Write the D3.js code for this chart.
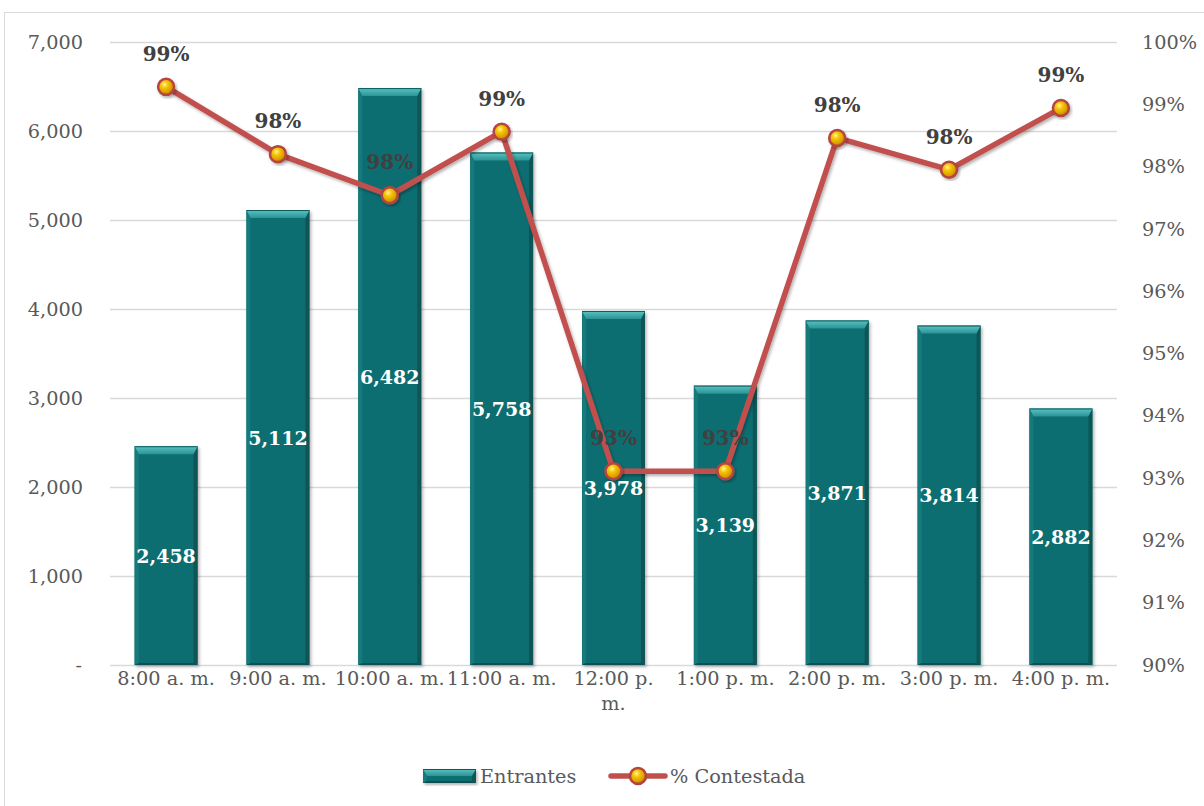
<!DOCTYPE html>
<html><head><meta charset="utf-8">
<script src="https://cdn.jsdelivr.net/npm/d3@7"></script>
<style>
html,body{margin:0;padding:0;background:#fff;}
svg{display:block;}
text{font-family:"DejaVu Serif","Liberation Serif",serif;}
</style></head>
<body><svg id="c" width="1204" height="806"></svg>
<script>
const categories = ["8:00 a. m.","9:00 a. m.","10:00 a. m.","11:00 a. m.","12:00 p. m.","1:00 p. m.","2:00 p. m.","3:00 p. m.","4:00 p. m."];
const categoryLines = [["8:00 a. m."],["9:00 a. m."],["10:00 a. m."],["11:00 a. m."],["12:00 p.","m."],["1:00 p. m."],["2:00 p. m."],["3:00 p. m."],["4:00 p. m."]];
const entrantes = [2458,5112,6482,5758,3978,3139,3871,3814,2882];
const contestada = [0.9928,0.9820,0.9754,0.9856,0.9311,0.9311,0.9846,0.9795,0.9894];
const leftTicks = [0,1000,2000,3000,4000,5000,6000,7000];
const rightTicks = [0.90,0.91,0.92,0.93,0.94,0.95,0.96,0.97,0.98,0.99,1.00];
const seriesNames = ["Entrantes","% Contestada"];

const svg = d3.select("#c");
const m = {left:110, right:1117, top:42, bottom:665};
const FONT = "'DejaVu Serif','Liberation Serif',serif";
const AX = 19.3;

const defs = svg.append("defs");
const rg = defs.append("radialGradient").attr("id","gold").attr("cx","40%").attr("cy","35%").attr("r","65%");
rg.append("stop").attr("offset","0%").attr("stop-color","#fff2a0");
rg.append("stop").attr("offset","35%").attr("stop-color","#f5c400");
rg.append("stop").attr("offset","80%").attr("stop-color","#d89a00");
rg.append("stop").attr("offset","100%").attr("stop-color","#a86c00");
const sh = defs.append("filter").attr("id","shadow").attr("x","-20%").attr("y","-20%").attr("width","140%").attr("height","140%");
sh.append("feDropShadow").attr("dx",1.5).attr("dy",2).attr("stdDeviation",1.5).attr("flood-color","#000").attr("flood-opacity",0.3);
const topG = defs.append("linearGradient").attr("id","topbev").attr("x1","0").attr("y1","0").attr("x2","0").attr("y2","1");
topG.append("stop").attr("offset","0%").attr("stop-color","#5cc3c3");
topG.append("stop").attr("offset","100%").attr("stop-color","#2a9394");

// border
svg.append("rect").attr("x",4.5).attr("y",12.5).attr("width",1300).attr("height",900)
  .attr("fill","none").attr("stroke","#d9d9d9").attr("stroke-width",1);

const x = d3.scaleBand().domain(categories).range([m.left,m.right]).paddingInner(0.437).paddingOuter(0.22);
const y = d3.scaleLinear().domain([0,7000]).range([m.bottom,m.top]);
const y2 = d3.scaleLinear().domain([0.90,1.00]).range([m.bottom,m.top]);

// gridlines
svg.append("g").selectAll("line").data(leftTicks).join("line")
  .attr("x1",m.left).attr("x2",m.right)
  .attr("y1",d=>Math.round(y(d))+0.5).attr("y2",d=>Math.round(y(d))+0.5)
  .attr("stroke","#d9d9d9").attr("stroke-width",1.3);

// left axis
const fmt = d3.format(",");
const ax = svg.append("g").attr("transform",`translate(${m.left-27},0)`)
  .call(d3.axisLeft(y).tickValues(leftTicks).tickSize(0).tickPadding(0).tickFormat(d=>d===0?"-":fmt(d)));
ax.select(".domain").remove();
ax.selectAll("text").attr("font-size",AX).attr("fill","#595959").attr("font-family",FONT)
  .attr("dx", d=>d===0? -1:0);

// right axis
const ax2 = svg.append("g").attr("transform",`translate(${m.right+25},0)`)
  .call(d3.axisRight(y2).tickValues(rightTicks).tickSize(0).tickPadding(0).tickFormat(d3.format(".0%")));
ax2.select(".domain").remove();
ax2.selectAll("text").attr("font-size",AX).attr("fill","#595959").attr("font-family",FONT);

// bars
const bw = x.bandwidth();
const bars = svg.append("g").selectAll("g").data(categories).join("g").attr("filter","url(#shadow)");
function drawBar(g, x0, y0, w, h){
  const b = Math.min(8, h/2);
  const s = 4;
  g.append("rect").attr("x",x0).attr("y",y0).attr("width",w).attr("height",h).attr("fill","#0e6e71");
  g.append("polygon").attr("points",`${x0},${y0} ${x0+s},${y0+b} ${x0+s},${y0+h-2} ${x0},${y0+h}`).attr("fill","#16797b");
  g.append("polygon").attr("points",`${x0+w},${y0} ${x0+w-s},${y0+b} ${x0+w-s},${y0+h-2} ${x0+w},${y0+h}`).attr("fill","#0a5456");
  g.append("polygon").attr("points",`${x0},${y0+h} ${x0+s},${y0+h-2} ${x0+w-s},${y0+h-2} ${x0+w},${y0+h}`).attr("fill","#0a5052");
  g.append("polygon").attr("points",`${x0},${y0} ${x0+w},${y0} ${x0+w-s},${y0+b} ${x0+s},${y0+b}`).attr("fill","url(#topbev)");
  g.append("line").attr("x1",x0).attr("x2",x0+w).attr("y1",y0+0.5).attr("y2",y0+0.5).attr("stroke","#0b5a5c").attr("stroke-width",1);
}
bars.each(function(c,i){
  drawBar(d3.select(this), x(c), y(entrantes[i]), bw, y(0)-y(entrantes[i]));
});

// bar labels
svg.append("g").selectAll("text").data(categories).join("text")
  .attr("x",c=>x(c)+bw/2).attr("y",(c,i)=>(y(entrantes[i])+y(0))/2)
  .attr("text-anchor","middle").attr("dominant-baseline","central")
  .attr("font-size",19).attr("font-weight","bold").attr("fill","#ffffff")
  .text((c,i)=>fmt(entrantes[i]));

// line
const pts = categories.map((c,i)=>[x(c)+bw/2, y2(contestada[i])]);
svg.append("path").attr("d",d3.line()(pts)).attr("fill","none")
  .attr("stroke","#c0504d").attr("stroke-width",5.5).attr("stroke-linejoin","round").attr("filter","url(#shadow)");
svg.append("g").selectAll("circle").data(pts).join("circle")
  .attr("cx",d=>d[0]).attr("cy",d=>d[1]).attr("r",8)
  .attr("fill","url(#gold)").attr("stroke","#b5443f").attr("stroke-width",2.5).attr("filter","url(#shadow)");

// line labels
svg.append("g").selectAll("text").data(pts).join("text")
  .attr("x",d=>d[0]).attr("y",d=>d[1]-33)
  .attr("text-anchor","middle").attr("dominant-baseline","central")
  .attr("font-size",20).attr("font-weight","bold").attr("fill","#404040")
  .text((d,i)=>d3.format(".0%")(contestada[i]));

// x labels
const xl = svg.append("g").selectAll("text").data(categories).join("text")
  .attr("x",c=>x(c)+bw/2).attr("y",678)
  .attr("text-anchor","middle").attr("dominant-baseline","central")
  .attr("font-size",AX).attr("fill","#595959");
xl.each(function(c,i){
  const t = d3.select(this);
  categoryLines[i].forEach((ln,k)=>{
    t.append("tspan").attr("x",x(c)+bw/2).attr("dy",k===0?0:25).text(ln);
  });
});

// legend
const lg = svg.append("g");
const lgB = lg.append("g").attr("filter","url(#shadow)");
drawBar(lgB, 423, 769, 53, 14);
lg.append("text").attr("x",480).attr("y",776).attr("dominant-baseline","central")
  .attr("font-size",AX).attr("fill","#595959").text(seriesNames[0]);
lg.append("line").attr("x1",611).attr("x2",665).attr("y1",776).attr("y2",776)
  .attr("stroke","#c0504d").attr("stroke-width",5.5).attr("stroke-linecap","round");
lg.append("circle").attr("cx",638).attr("cy",776).attr("r",8)
  .attr("fill","url(#gold)").attr("stroke","#b5443f").attr("stroke-width",2.5);
lg.append("text").attr("x",670).attr("y",776).attr("dominant-baseline","central")
  .attr("font-size",AX).attr("fill","#595959").text(seriesNames[1]);
</script></body></html>
